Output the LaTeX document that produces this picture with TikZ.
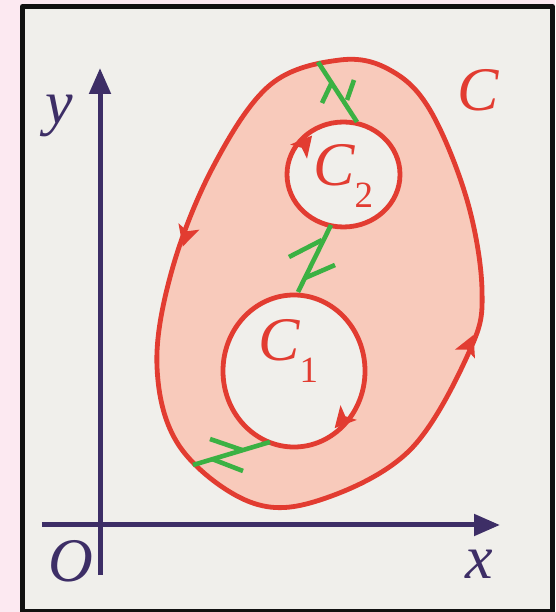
\documentclass[tikz,border=0pt]{standalone}
\usepackage{fontspec}
\setmainfont{Liberation Serif}
\usetikzlibrary{arrows.meta, calc}
\definecolor{figpink}{HTML}{FCE9F1}
\definecolor{figpanel}{HTML}{F0EFEB}
\definecolor{figframe}{HTML}{111111}
\definecolor{figaxis}{HTML}{3D2E66}
\definecolor{figred}{HTML}{E23C31}
\definecolor{figring}{HTML}{F8CABB}
\definecolor{figcut}{HTML}{3BB143}
\newcommand{\lowidx}[1]{\raisebox{-22pt}{\upshape\fontsize{37}{37}\selectfont #1}}

\begin{document}
\begin{tikzpicture}[
  x=1pt, y=1pt,
  line cap=butt, line join=round,
  axis/.style = {draw=figaxis, line width=5pt,
                 -{Triangle[length=26pt, width=21pt]}},
  curve/.style = {draw=figred, line width=4.8pt},
  cut/.style = {draw=figcut, line width=4.6pt},
  redhead/.pic = {\fill[figred] (11,0) -- (-10,11) -- (-5,0) -- (-10,-11) -- cycle;},
  lab/.style = {font=\fontsize{62}{62}\selectfont\itshape, inner sep=0pt, anchor=base}
]

% 画布与边框
\useasboundingbox (-100,-87) rectangle (455,525);
\fill[figpink] (-100,-87) rectangle (455,525);
\draw[line width=5pt, draw=figframe, fill=figpanel] (-77.5,-86.5) rectangle (452.5,518.5);

% 坐标轴
\coordinate (o) at (0,0);
\coordinate (xs) at (-58,0);
\coordinate (xe) at (400,0);
\coordinate (ys) at (0,-50);
\coordinate (ye) at (0,457);
\draw[axis] (xs) -- (xe);
\draw[axis] (ys) -- (ye);

% 外边界 C（逆时针）
\draw[curve, fill=figring]
  plot[smooth cycle, tension=0.6] coordinates {
    (240,465) (170,440) (113,358) (72,255) (57,158) (80,78) (150,23)
    (220,25) (310,75) (370,175) (382,235) (367,325) (330,415) (290,455)};
\pic[rotate=253] at (86,289) {redhead};
\pic[rotate=66] at (369,180) {redhead};

% 内边界 C1, C2（顺时针）
\coordinate (k1) at (194,154);
\coordinate (k2) at (243.5,350.5);
\draw[curve, fill=figpanel] (k1) ellipse[x radius=71, y radius=76];
\draw[curve, fill=figpanel] (k2) ellipse[x radius=56.5, y radius=52.5];
\pic[rotate=228] at (242,105) {redhead};
\pic[rotate=50] at (205,381) {redhead};

% 割线：C 与 C2
\coordinate (ta) at (218,463);
\coordinate (tb) at (257,403);
\draw[cut] (ta) -- (tb);
\draw[cut] (232,443) -- (222,422);
\draw[cut] (247,425) -- (254,445);

% 割线：C2 与 C1
\coordinate (ma) at (231,300);
\coordinate (mb) at (198,233);
\draw[cut] (ma) -- (mb);
\draw[cut] (222,285) -- (189,268);
\draw[cut] (205,247) -- (235,260);

% 割线：C1 与 C
\coordinate (ba) at (93,60);
\coordinate (bb) at (170,83);
\draw[cut] (ba) -- (bb);
\draw[cut] (142,75) -- (110,86);
\draw[cut] (112,66) -- (143,54);

% 标注
\node[lab, text=figaxis] (ylab) at (-41,401) {y};
\node[lab, text=figaxis] (olab) at (-29,-56) {O};
\node[lab, text=figaxis] (xlab) at (379,-53) {x};
\node[lab, text=figred] (clab) at (378,414) {C};
\node[lab, anchor=base west, text=figred] (c2lab) at (213,339) {C\lowidx{2}};
\node[lab, anchor=base west, text=figred] (c1lab) at (158,164) {C\lowidx{1}};

\end{tikzpicture}
\end{document}
